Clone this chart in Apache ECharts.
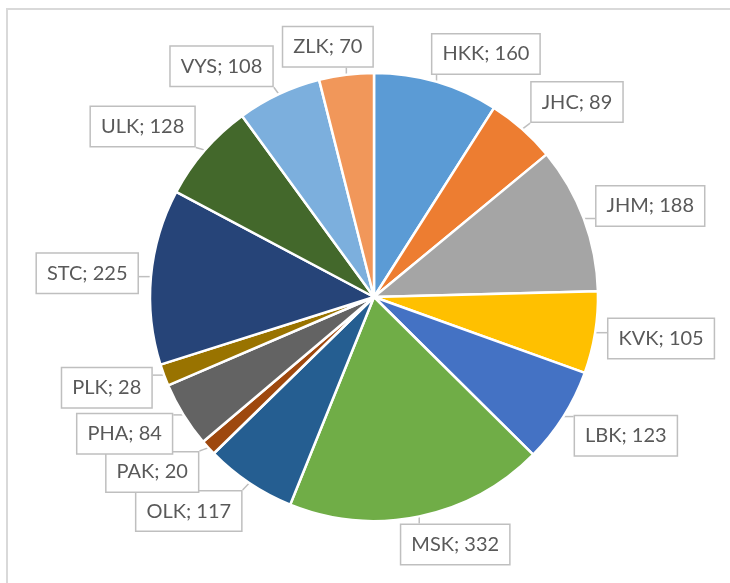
<!DOCTYPE html>
<html>
<head>
<meta charset="utf-8">
<script src="https://cdn.jsdelivr.net/npm/echarts@6/dist/echarts.min.js"></script>
<style>
html,body{margin:0;padding:0;background:#fff;}
#c{width:730px;height:583px;}
</style>
</head>
<body>
<div id="c"></div>
<script>
const categories = ['HKK','JHC','JHM','KVK','LBK','MSK','OLK','PAK','PHA','PLK','STC','ULK','VYS','ZLK'];
const values = [160, 89, 188, 105, 123, 332, 117, 20, 84, 28, 225, 128, 108, 70];
const colors = ['#5B9BD5','#ED7D31','#A5A5A5','#FFC000','#4472C4','#70AD47','#255E91','#9E480E','#636363','#997300','#264478','#43682B','#7CAFDD','#F1975A'];

const CX = 374, CY = 297, R = 224;
const total = values.reduce((a, b) => a + b, 0);
// mid-angle of each slice (clockwise from 12 o'clock), derived from the data
const midAngles = [];
{
  let acc = 0;
  values.forEach(v => { midAngles.push((acc + v / 2) / total * 2 * Math.PI); acc += v; });
}
const clamp = (v, a, b) => Math.max(a, Math.min(b, v));

const chart = echarts.init(document.getElementById('c'), null, {renderer:'canvas'});
chart.setOption({
  animation: false,
  graphic: [{
    type: 'rect', silent: true,
    shape: {x: 7, y: 9, width: 900, height: 800},
    style: {fill: 'none', stroke: '#D9D9D9', lineWidth: 2}
  }],
  series: [{
    type: 'pie',
    center: [CX, CY],
    radius: R,
    startAngle: 90,
    clockwise: true,
    avoidLabelOverlap: false,
    data: categories.map((c, i) => ({name: c, value: values[i], itemStyle: {color: colors[i]}})),
    itemStyle: {borderColor: '#fff', borderWidth: 2.5},
    label: {
      show: true,
      position: 'outside',
      formatter: '{b}; {c}',
      fontFamily: 'Lato',
      fontSize: 20,
      color: '#595959',
      backgroundColor: '#fff',
      borderColor: '#BFBFBF',
      borderWidth: 1.5,
      padding: [10, 10, 9, 10]
    },
    labelLine: {
      show: true,
      length: 10,
      length2: 10,
      lineStyle: {color: '#BFBFBF', width: 1.5}
    },
    labelLayout: function (p) {
      const a = midAngles[p.dataIndex];
      const ux = Math.sin(a), uy = -Math.cos(a);
      const px = CX + R * ux, py = CY + R * uy;
      const w = p.labelRect.width, h = p.labelRect.height;
      const cx = px + clamp(ux * 3, -1, 1) * (w / 2) + ux * 12;
      const cy = py + clamp(uy * 36, -(h / 2 + 7), h / 2 + 7);
      const ex = clamp(px, cx - w / 2, cx + w / 2);
      const ey = clamp(py, cy - h / 2, cy + h / 2);
      return {
        x: cx, y: cy, align: 'center', verticalAlign: 'middle',
        labelLinePoints: [[px, py], [(px + ex) / 2, (py + ey) / 2], [ex, ey]]
      };
    }
  }]
});
</script>
</body>
</html>
